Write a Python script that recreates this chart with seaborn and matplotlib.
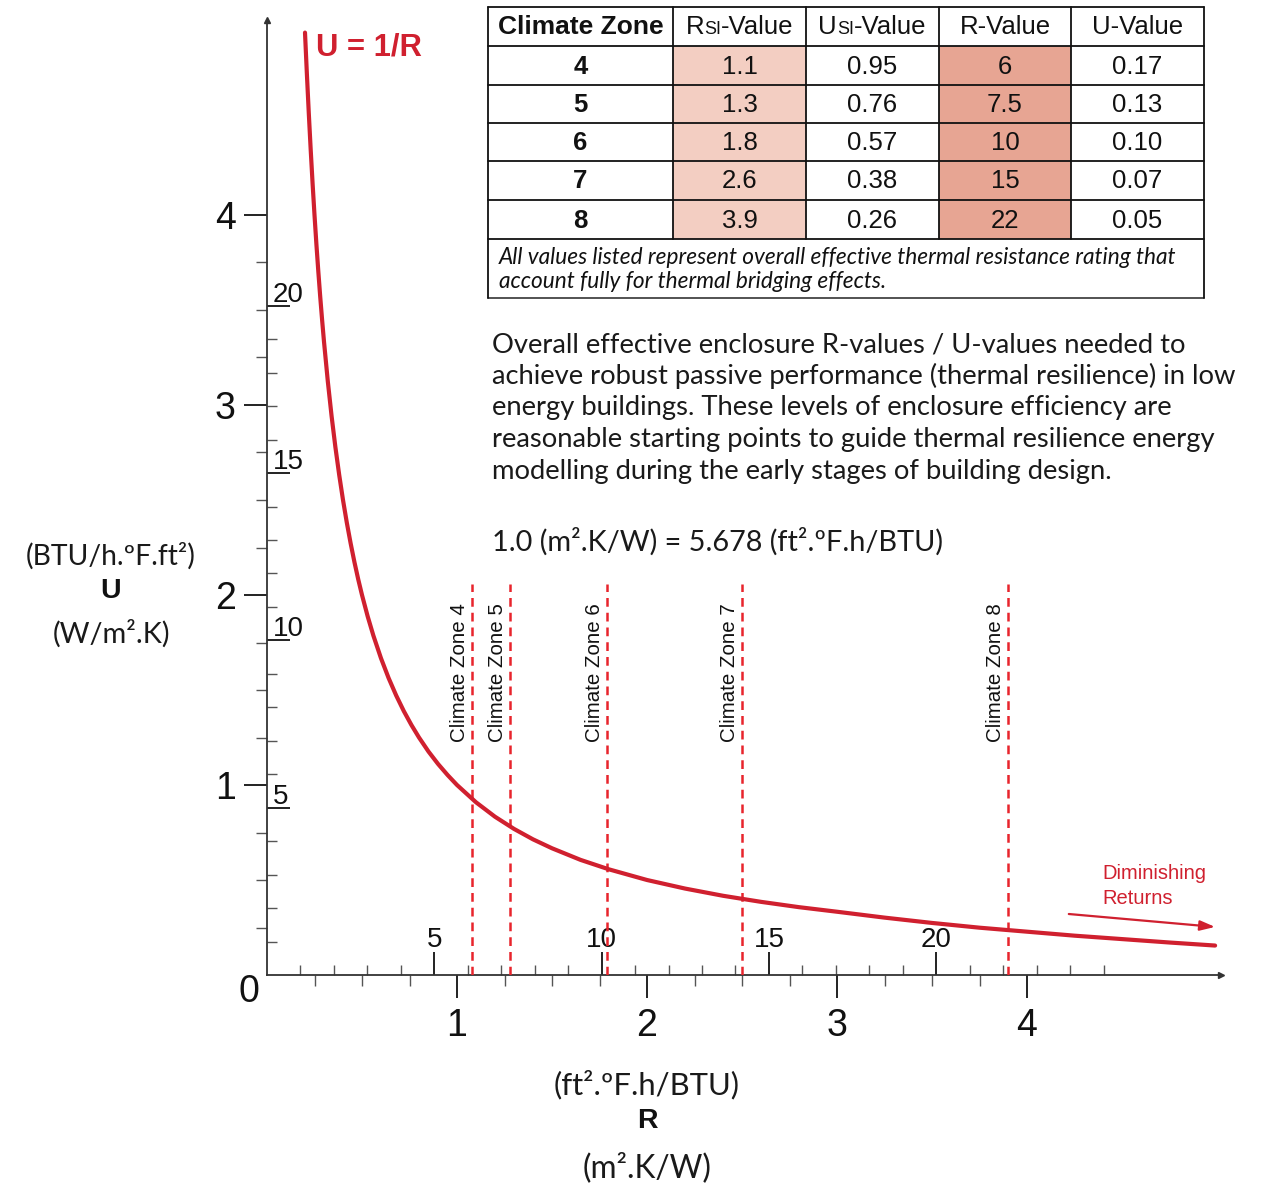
import numpy as np
import pandas as pd
import matplotlib
matplotlib.use("Agg")
import matplotlib.pyplot as plt
from matplotlib.patches import Rectangle
import seaborn as sns

# ---------------- data ----------------
R_curve = [0.20, 0.21, 0.22, 0.23, 0.24, 0.25, 0.26, 0.27, 0.28, 0.29, 0.30, 0.32, 0.34,
           0.36, 0.38, 0.40, 0.42, 0.44, 0.46, 0.48, 0.50, 0.53, 0.56, 0.60, 0.64, 0.68,
           0.72, 0.76, 0.80, 0.85, 0.90, 0.95, 1.00, 1.10, 1.20, 1.30, 1.40, 1.50, 1.65,
           1.80, 2.00, 2.20, 2.40, 2.60, 2.80, 3.00, 3.25, 3.50, 3.75, 4.00, 4.25, 4.50,
           4.75, 4.99]
U_curve = [4.960, 4.740, 4.535, 4.343, 4.165, 4.000, 3.846, 3.704, 3.571, 3.448, 3.333,
           3.125, 2.941, 2.778, 2.632, 2.500, 2.381, 2.273, 2.174, 2.083, 2.000, 1.887,
           1.786, 1.667, 1.563, 1.471, 1.389, 1.316, 1.250, 1.176, 1.111, 1.053, 1.000,
           0.909, 0.833, 0.769, 0.714, 0.667, 0.606, 0.556, 0.500, 0.455, 0.417, 0.385,
           0.357, 0.333, 0.302, 0.274, 0.249, 0.228, 0.207, 0.189, 0.171, 0.155]

zones = ["4", "5", "6", "7", "8"]
rsi_vals = ["1.1", "1.3", "1.8", "2.6", "3.9"]
usi_vals = ["0.95", "0.76", "0.57", "0.38", "0.26"]
r_vals = ["6", "7.5", "10", "15", "22"]
u_vals = ["0.17", "0.13", "0.10", "0.07", "0.05"]

zone_line_R = [1.08, 1.28, 1.79, 2.50, 3.90]
zone_line_top = 2.06
zone_labels = ["Climate Zone 4", "Climate Zone 5", "Climate Zone 6", "Climate Zone 7", "Climate Zone 8"]

si_major = [1, 2, 3, 4]
si_minor = [0.25, 0.5, 0.75, 1.25, 1.5, 1.75, 2.25, 2.5, 2.75, 3.25, 3.5, 3.75]
ip_major = [5, 10, 15, 20]
ip_minor_x = list(range(1, 26))
ip_minor_y = list(range(1, 21))
CONV = 5.678

paragraph = [
    "Overall effective enclosure R-values / U-values needed to",
    "achieve robust passive performance (thermal resilience) in low",
    "energy buildings. These levels of enclosure efficiency are",
    "reasonable starting points to guide thermal resilience energy",
    "modelling during the early stages of building design.",
]
conversion = "1.0 (m\u00b2.K/W) = 5.678 (ft\u00b2.\u00baF.h/BTU)"
footnote = [
    "All values listed represent overall effective thermal resistance rating that",
    "account fully for thermal bridging effects.",
]

# ---------------- style ----------------
sns.set_style("white")
plt.rcParams["font.family"] = ["Liberation Sans", "DejaVu Sans"]
LATO = ["Lato", "DejaVu Sans"]
RED = "#d0202f"
RED2 = "#e8242c"
AX = "#333333"

W, H = 1264, 1188
fig = plt.figure(figsize=(W / 100, H / 100), dpi=100)
fig.patch.set_facecolor("white")
renderer = fig.canvas.get_renderer()

x0, y0 = 267, 975
scale = 190.0
xr = (1221 - x0) / scale
yr = (y0 - 20) / scale
ax = fig.add_axes([x0 / W, (H - y0) / H, (1221 - x0) / W, (y0 - 20) / H])
ax.set_xlim(0, xr)
ax.set_ylim(0, yr)
ax.patch.set_alpha(0)

df = pd.DataFrame({"R": R_curve, "U": U_curve})
sns.lineplot(data=df, x="R", y="U", ax=ax, color=RED, lw=3.0, zorder=4)
ax.vlines(zone_line_R, 0, zone_line_top, colors=RED2, linestyles=(0, (3.5, 2.4)), lw=1.8, zorder=3)

for s in ["top", "right"]:
    ax.spines[s].set_visible(False)
for s in ["left", "bottom"]:
    ax.spines[s].set_color(AX)
    ax.spines[s].set_linewidth(1.3)
ax.plot([0], [1], marker="^", ms=5, color=AX, transform=ax.transAxes, clip_on=False)
ax.plot([1], [0], marker=">", ms=5, color=AX, transform=ax.transAxes, clip_on=False)

ax.set_xticks(si_major)
ax.set_xticklabels([str(v) for v in si_major])
ax.set_xticks(si_minor, minor=True)
ax.set_yticks(si_major)
ax.set_yticklabels([str(v) for v in si_major])
ax.set_yticks(si_minor, minor=True)
ax.tick_params(which="both", bottom=True, left=True, top=False, right=False)
ax.tick_params(which="major", direction="out", length=16.5, width=1.4, color="#222",
               labelsize=27, labelcolor="#111")
ax.tick_params(axis="x", which="major", pad=7)
ax.tick_params(axis="y", which="major", pad=6)
ax.tick_params(which="minor", direction="out", length=8, width=1.0, color="#555")
ax.set_xlabel("")
ax.set_ylabel("")
ax.annotate("0", xy=(0, 0), xycoords="axes fraction", xytext=(-18, -17),
            textcoords="offset pixels", ha="center", va="center", fontsize=27, color="#111")

# imperial secondary axes
secx = ax.secondary_xaxis(0, functions=(lambda r: r * CONV, lambda v: v / CONV))
secx.set_alignment("top")
secx.set_xticks(ip_major)
secx.set_xticklabels([str(v) for v in ip_major])
secx.set_xticks(ip_minor_x, minor=True)
secx.tick_params(which="both", top=True, bottom=False)
secx.tick_params(which="major", direction="out", length=16.5, width=1.4, color="#222",
                 labelsize=20, pad=-1, labelcolor="#111")
secx.tick_params(which="minor", direction="out", length=7.5, width=1.0, color="#555")
for s in secx.spines.values():
    s.set_visible(False)

secy = ax.secondary_yaxis(0, functions=(lambda u: u * CONV, lambda v: v / CONV))
secy.set_alignment("right")
secy.set_yticks(ip_major)
secy.set_yticks(ip_minor_y, minor=True)
secy.tick_params(which="both", right=True, left=False)
secy.tick_params(which="major", direction="out", length=16.5, width=1.4, color="#222",
                 labelright=False)
secy.tick_params(which="minor", direction="out", length=7.5, width=1.0, color="#555")
for s in secy.spines.values():
    s.set_visible(False)
for v in ip_major:
    ax.annotate(str(v), xy=(0, v / CONV), xycoords=("axes fraction", "data"), xytext=(6, 4),
                textcoords="offset pixels", ha="left", va="baseline", fontsize=20, color="#111")

# climate zone labels
for r, lab in zip(zone_line_R, zone_labels):
    ax.annotate(lab, xy=(r, zone_line_top), xycoords="data", xytext=(-3, -158),
                textcoords="offset pixels", rotation=90, ha="right", va="bottom",
                fontsize=14.8, color="#111")

# U = 1/R title and diminishing returns
ax.annotate("U = 1/R", xy=(0, 1), xycoords="axes fraction", xytext=(49, -27),
            textcoords="offset pixels", ha="left", va="center", fontsize=22.3,
            fontweight="bold", color=RED)
ax.annotate("", xy=(4.99, 0.253), xytext=(4.22, 0.321), xycoords="data",
            arrowprops=dict(arrowstyle="-|>,head_length=0.9,head_width=0.3", color=RED,
                            lw=1.6, shrinkA=0, shrinkB=0))
ax.text(4.395, 0.535, "Diminishing", fontsize=14.5, color=RED, ha="left", va="center")
ax.text(4.395, 0.40, "Returns", fontsize=14.5, color=RED, ha="left", va="center")

# ---------------- overlay (pixel coordinates) ----------------
ov = fig.add_axes([0, 0, 1, 1], zorder=5)
ov.set_xlim(0, W)
ov.set_ylim(H, 0)
ov.axis("off")
ov.patch.set_alpha(0)


def fit(x, y, s, width, size0=16, **kw):
    t = ov.text(x, y, s, fontsize=size0, **kw)
    w = t.get_window_extent(renderer).width
    t.set_fontsize(size0 * width / w)
    return t


# table
cols = [488, 673, 806, 939, 1071, 1204]
rows = [7, 46, 85, 123, 161, 200, 239]
foot_bottom = 298
ov.add_patch(Rectangle((cols[1], rows[1]), cols[2] - cols[1], rows[-1] - rows[1],
                       facecolor="#f3cec2", edgecolor="none"))
ov.add_patch(Rectangle((cols[3], rows[1]), cols[4] - cols[3], rows[-1] - rows[1],
                       facecolor="#e7a593", edgecolor="none"))
for yy in rows:
    ov.plot([cols[0], cols[-1]], [yy, yy], color="#111", lw=1.3)
ov.plot([cols[0], cols[-1]], [foot_bottom, foot_bottom], color="#444", lw=1.3)
for xx in cols[1:-1]:
    ov.plot([xx, xx], [rows[0], rows[-1]], color="#111", lw=1.3)
for xx in (cols[0], cols[-1]):
    ov.plot([xx, xx], [rows[0], foot_bottom], color="#111", lw=1.3)

TS = 18.5
hy = (rows[0] + rows[1]) / 2 + 1
ov.text((cols[0] + cols[1]) / 2, hy, "Climate Zone", fontsize=19, fontweight="bold",
        ha="center", va="center", color="#111")


def composite(cx, cy, pieces):
    arts = []
    for s, fs in pieces:
        t = ov.text(0, cy, s, fontsize=fs, ha="left", va="baseline", color="#111")
        arts.append(t)
    widths = [a.get_window_extent(renderer).width for a in arts]
    start = cx - sum(widths) / 2
    for a, w in zip(arts, widths):
        a.set_x(start)
        start += w


composite((cols[1] + cols[2]) / 2, hy + 6.5, [("R", TS), ("SI", 13), ("-Value", TS)])
composite((cols[2] + cols[3]) / 2, hy + 6.5, [("U", TS), ("SI", 13), ("-Value", TS)])
ov.text((cols[3] + cols[4]) / 2, hy, "R-Value", fontsize=TS, ha="center", va="center", color="#111")
ov.text((cols[4] + cols[5]) / 2, hy, "U-Value", fontsize=TS, ha="center", va="center", color="#111")

for i in range(len(zones)):
    cy = (rows[i + 1] + rows[i + 2]) / 2 + 1
    vals = [zones[i], rsi_vals[i], usi_vals[i], r_vals[i], u_vals[i]]
    for j, v in enumerate(vals):
        ov.text((cols[j] + cols[j + 1]) / 2, cy, v, fontsize=TS,
                fontweight="bold" if j == 0 else "normal", ha="center", va="center", color="#111")

ft = fit(499, 257, footnote[0], 679, 14, family=LATO, style="italic", ha="left",
         va="center", color="#111")
ov.text(499, 282, footnote[1], fontsize=ft.get_fontsize(), family=LATO, style="italic",
        ha="left", va="center", color="#111")

# paragraph
pt = fit(492, 376, paragraph[1], 746, 17, family=LATO, ha="left", va="center", color="#1a1a1a")
for yy, line in zip([345, 408, 440, 471], [paragraph[0], paragraph[2], paragraph[3], paragraph[4]]):
    ov.text(492, yy, line, fontsize=pt.get_fontsize(), family=LATO, ha="left", va="center",
            color="#1a1a1a")
fit(492, 542, conversion, 452, 17, family=LATO, ha="left", va="center", color="#1a1a1a")

# axis labels
fit(111, 556, "(BTU/h.\u00baF.ft\u00b2)", 170, 17, family=LATO, ha="center", va="center", color="#1a1a1a")
ov.text(111, 591, "U", fontsize=20.5, fontweight="bold", ha="center", va="center", color="#111")
fit(111, 634, "(W/m\u00b2.K)", 118, 17, family=LATO, ha="center", va="center", color="#1a1a1a")
fit(647, 1085, "(ft\u00b2.\u00baF.h/BTU)", 186, 18, family=LATO, ha="center", va="center", color="#1a1a1a")
ov.text(647, 1121, "R", fontsize=20.5, fontweight="bold", ha="center", va="center", color="#111")
fit(647, 1168, "(m\u00b2.K/W)", 129, 18, family=LATO, ha="center", va="center", color="#1a1a1a")

fig.savefig("out.png", dpi=100, facecolor="white")
